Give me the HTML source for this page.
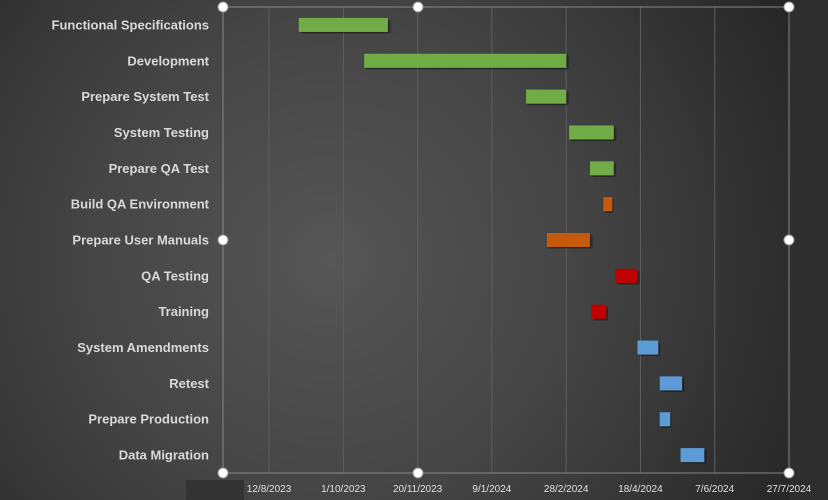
<!DOCTYPE html>
<html><head><meta charset="utf-8"><style>
html,body{margin:0;padding:0;width:828px;height:500px;overflow:hidden;background:#2b2b2b}
svg{display:block}
text{font-family:"Liberation Sans",sans-serif}
</style></head><body>
<svg id="chart" width="828" height="500">
<defs>
<radialGradient id="bg" cx="330" cy="260" r="560" gradientUnits="userSpaceOnUse">
<stop offset="0" stop-color="#565656"/><stop offset="0.45" stop-color="#444"/><stop offset="1" stop-color="#222"/>
</radialGradient>
<filter id="sh"><feDropShadow dx="2" dy="2" stdDeviation="1.2" flood-color="#000" flood-opacity="0.5"/></filter>
</defs>
<rect width="828" height="500" fill="url(#bg)"/>
<rect x="790" y="0" width="38" height="500" fill="#2e2e2e"/>
<rect x="186" y="480" width="58" height="20" fill="#333"/>
<g id="grid"></g><g id="bars"></g><g id="labels"></g><g id="ticks"></g>
<rect x="223" y="7" width="566" height="466" fill="none" stroke="#888" stroke-width="1"/>
<g id="handles"></g>
</svg>
<script>
const tasks=["Functional Specifications","Development","Prepare System Test","System Testing","Prepare QA Test","Build QA Environment","Prepare User Manuals","QA Testing","Training","System Amendments","Retest","Prepare Production","Data Migration"];
const starts=["2023-09-01","2023-10-15","2024-02-01","2024-03-01","2024-03-15","2024-03-24","2024-02-15","2024-04-01","2024-03-16","2024-04-16","2024-05-01","2024-05-01","2024-05-15"];
const ends=["2023-10-31","2024-02-28","2024-02-28","2024-03-31","2024-03-31","2024-03-30","2024-03-15","2024-04-16","2024-03-26","2024-04-30","2024-05-16","2024-05-08","2024-05-31"];
const groups=["g","g","g","g","g","o","o","r","r","b","b","b","b"];
const tickLabels=["12/8/2023","1/10/2023","20/11/2023","9/1/2024","28/2/2024","18/4/2024","7/6/2024","27/7/2024"];
const tickDates=["2023-08-12","2023-10-01","2023-11-20","2024-01-09","2024-02-28","2024-04-18","2024-06-07","2024-07-27"];
const axisMin="2023-07-12", axisMax="2024-07-27";
const colors={g:"#70ad47",o:"#c55a11",r:"#c00000",b:"#5b9bd5"};
const NS="http://www.w3.org/2000/svg";
const L=223,R=789,T=7,B=473;
const d=s=>Date.parse(s+"T00:00:00Z");
const x=s=>L+(d(s)-d(axisMin))/(d(axisMax)-d(axisMin))*(R-L);
const band=(B-T)/tasks.length;
const yc=i=>T+band*(i+0.5);
function mk(tag,attrs,parent){const e=document.createElementNS(NS,tag);for(const k in attrs)e.setAttribute(k,attrs[k]);document.getElementById(parent).appendChild(e);return e;}
tickDates.forEach((t,i)=>{
 const gx=x(t);
 const ln=mk("line",{x1:gx,x2:gx,y1:T,y2:B,stroke:"#5e5e5e","stroke-width":1},"grid");
 
 
 const tx=mk("text",{x:gx,y:492,"text-anchor":"middle","font-size":"10",fill:"#e0e0e0"},"ticks");
 tx.textContent=tickLabels[i];
 
 
});
tasks.forEach((t,i)=>{
 const x0=x(starts[i]),x1=x(ends[i]);
 const r=mk("rect",{x:x0,y:yc(i)-7,width:Math.max(2,x1-x0),height:14,fill:colors[groups[i]],filter:"url(#sh)"},"bars");
 
 
 const tx=mk("text",{x:209,y:yc(i)+4.5,"text-anchor":"end","font-size":"13","font-weight":"bold",fill:"#d9d9d9"},"labels");
 tx.textContent=t;
 
 
});
[[223,7],[418,7],[789,7],[223,240],[789,240],[223,473],[418,473],[789,473]].forEach(p=>{
 const c=mk("circle",{cx:p[0],cy:p[1],r:5,fill:"#fff",stroke:"#999","stroke-width":1},"handles");
 
 
});
</script>
</body></html>
